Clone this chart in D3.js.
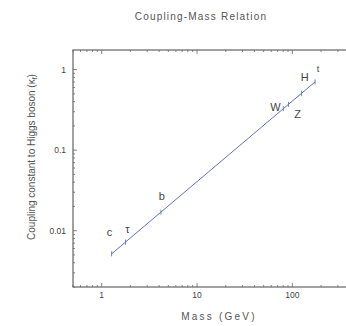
<!DOCTYPE html>
<html>
<head>
<meta charset="utf-8">
<script src="https://cdn.jsdelivr.net/npm/d3@7"></script>
<style>
body { margin: 0; background: #fff; }
text { font-family: "Liberation Sans", Arial, sans-serif; fill: #444; }
</style>
</head>
<body>
<script>
// particles and masses (GeV); coupling = m / v
var particles = ["c", "τ", "b", "W", "Z", "H", "t"];
var masses = [1.27, 1.777, 4.18, 80.4, 91.2, 125, 173];
var couplings = [0.00516, 0.00722, 0.0170, 0.327, 0.371, 0.508, 0.703];
var xTicks = [1, 10, 100];
var yTicks = [0.01, 0.1, 1];

var W = 346, H = 326;
var margin = {top: 50, left: 73, bottom: 287, right: 359};

var svg = d3.select("body").append("svg")
  .attr("width", W)
  .attr("height", H);

var x = d3.scaleLog().domain([0.5, 500]).range([margin.left, margin.right]);
var y = d3.scaleLog().domain([0.002, 1.75]).range([margin.bottom, margin.top]);

// minor tick values for log axes
function minors(scale) {
  var d = scale.domain(), out = [];
  for (var e = Math.floor(Math.log10(d[0])); e <= Math.ceil(Math.log10(d[1])); e++) {
    for (var k = 1; k < 10; k++) {
      var v = k * Math.pow(10, e);
      if (v >= d[0] && v <= d[1]) out.push(v);
    }
  }
  return out;
}

// box
svg.append("rect")
  .attr("x", margin.left).attr("y", margin.top)
  .attr("width", margin.right - margin.left)
  .attr("height", margin.bottom - margin.top)
  .attr("fill", "none").attr("stroke", "#444").attr("stroke-width", 1);

var tickCol = "#666";
// x ticks (inward, bottom and top)
minors(x).forEach(function(v) {
  var major = xTicks.indexOf(v) >= 0;
  var len = major ? 4 : 2;
  svg.append("line").attr("x1", x(v)).attr("x2", x(v))
    .attr("y1", margin.bottom).attr("y2", margin.bottom - len)
    .attr("stroke", tickCol).attr("stroke-width", 0.8);
  svg.append("line").attr("x1", x(v)).attr("x2", x(v))
    .attr("y1", margin.top).attr("y2", margin.top + len)
    .attr("stroke", tickCol).attr("stroke-width", 0.8);
});
// y ticks (inward, left)
minors(y).forEach(function(v) {
  var major = yTicks.indexOf(v) >= 0;
  var len = major ? 4 : 2;
  svg.append("line").attr("y1", y(v)).attr("y2", y(v))
    .attr("x1", margin.left).attr("x2", margin.left + len)
    .attr("stroke", tickCol).attr("stroke-width", 0.8);
});

svg.selectAll(".xt").data(xTicks).enter().append("text")
  .attr("x", function(d) { return x(d); })
  .attr("y", margin.bottom + 11)
  .attr("text-anchor", "middle")
  .attr("font-size", 8.5)
  .text(function(d) { return d; });

svg.selectAll(".yt").data(yTicks).enter().append("text")
  .attr("x", margin.left - 7)
  .attr("y", function(d) { return y(d) + 3; })
  .attr("text-anchor", "end")
  .attr("font-size", 8.5)
  .text(function(d) { return d; });

// title and axis labels
svg.append("text").attr("x", 201).attr("y", 20)
  .attr("text-anchor", "middle").attr("font-size", 10)
  .attr("letter-spacing", 1.2)
  .style("fill", "#555")
  .text("Coupling-Mass Relation");

svg.append("text").attr("x", 219).attr("y", 320)
  .attr("text-anchor", "middle").attr("font-size", 10)
  .attr("letter-spacing", 2.2)
  .style("fill", "#555")
  .text("Mass (GeV)");

var yl = svg.append("text")
  .attr("transform", "translate(35,157) rotate(-90)")
  .attr("text-anchor", "middle").attr("font-size", 10)
  .style("fill", "#555");
yl.append("tspan").text("Coupling constant to Higgs boson (κ");
yl.append("tspan").attr("font-size", 7).attr("dy", 2).text("f");
yl.append("tspan").attr("dy", -2).text(")");

// data line
var pts = masses.map(function(m, i) { return {m: m, k: couplings[i], name: particles[i]}; });
var blue = "#6070c0";
svg.append("path").datum(pts)
  .attr("fill", "none").attr("stroke", blue).attr("stroke-width", 1)
  .attr("d", d3.line().x(function(d) { return x(d.m); }).y(function(d) { return y(d.k); }));

svg.selectAll(".mk").data(pts).enter().append("line")
  .attr("x1", function(d) { return x(d.m); }).attr("x2", function(d) { return x(d.m); })
  .attr("y1", function(d) { return y(d.k) - 2.5; }).attr("y2", function(d) { return y(d.k) + 2.5; })
  .attr("stroke", blue).attr("stroke-width", 0.9);

// particle labels, offset from their points
var off = {"c": [-2, -18], "τ": [2, -9], "b": [1, -12], "W": [-8, 2], "Z": [9, 14], "H": [3, -12], "t": [3, -10]};
svg.selectAll(".pl").data(pts).enter().append("text")
  .attr("x", function(d) { return x(d.m) + off[d.name][0]; })
  .attr("y", function(d) { return y(d.k) + off[d.name][1]; })
  .attr("text-anchor", "middle")
  .attr("font-size", function(d) { return d.name === "t" ? 9 : 11; })
  .text(function(d) { return d.name; });
</script>
</body>
</html>
